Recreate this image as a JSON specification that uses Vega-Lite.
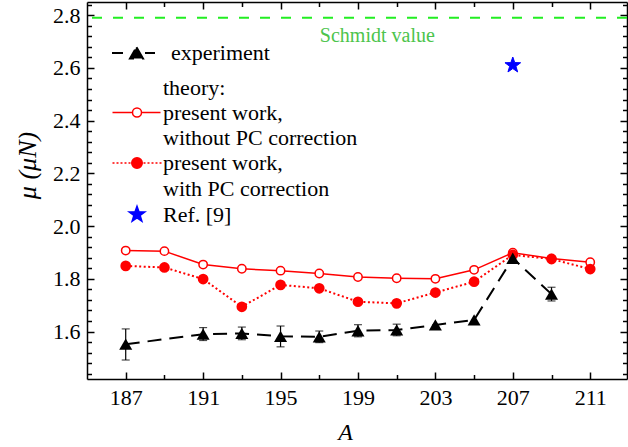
{
  "$schema": "https://vega.github.io/schema/vega-lite/v6.json",
  "width": 540,
  "height": 377,
  "autosize": {"type": "none"},
  "padding": {"left": 87, "top": 2, "right": 1, "bottom": 68},
  "background": "white",
  "config": {
    "view": {"stroke": null},
    "font": "Liberation Serif",
    "style": {"guide-label": {"lineHeight": 25.5}},
    "axis": {
      "grid": false,
      "domainColor": "black",
      "domainWidth": 1.5,
      "tickColor": "black",
      "tickWidth": 1.5,
      "labelFont": "Liberation Serif",
      "labelFontSize": 22,
      "labelColor": "black",
      "titleFont": "Liberation Serif",
      "titleFontSize": 24,
      "titleFontWeight": "normal",
      "titleFontStyle": "italic",
      "titleColor": "black"
    }
  },
  "datasets": {
    "main": [
      {"A": 187, "series": "experiment", "mu": 1.552, "lo": 1.492, "hi": 1.61},
      {"A": 191, "series": "experiment", "mu": 1.59, "lo": 1.566, "hi": 1.615},
      {"A": 193, "series": "experiment", "mu": 1.593, "lo": 1.569, "hi": 1.617},
      {"A": 195, "series": "experiment", "mu": 1.582, "lo": 1.542, "hi": 1.621},
      {"A": 197, "series": "experiment", "mu": 1.58, "lo": 1.558, "hi": 1.602},
      {"A": 199, "series": "experiment", "mu": 1.603, "lo": 1.58, "hi": 1.626},
      {"A": 201, "series": "experiment", "mu": 1.606, "lo": 1.584, "hi": 1.628},
      {"A": 203, "series": "experiment", "mu": 1.625, "lo": null, "hi": null},
      {"A": 205, "series": "experiment", "mu": 1.644, "lo": null, "hi": null},
      {"A": 207, "series": "experiment", "mu": 1.878, "lo": null, "hi": null},
      {"A": 209, "series": "experiment", "mu": 1.742, "lo": 1.716, "hi": 1.768},
      {"A": 187, "series": "without", "mu": 1.907},
      {"A": 189, "series": "without", "mu": 1.905},
      {"A": 191, "series": "without", "mu": 1.854},
      {"A": 193, "series": "without", "mu": 1.838},
      {"A": 195, "series": "without", "mu": 1.831},
      {"A": 197, "series": "without", "mu": 1.82},
      {"A": 199, "series": "without", "mu": 1.807},
      {"A": 201, "series": "without", "mu": 1.802},
      {"A": 203, "series": "without", "mu": 1.8},
      {"A": 205, "series": "without", "mu": 1.834},
      {"A": 207, "series": "without", "mu": 1.899},
      {"A": 209, "series": "without", "mu": 1.877},
      {"A": 211, "series": "without", "mu": 1.863},
      {"A": 187, "series": "with", "mu": 1.849},
      {"A": 189, "series": "with", "mu": 1.843},
      {"A": 191, "series": "with", "mu": 1.799},
      {"A": 193, "series": "with", "mu": 1.694},
      {"A": 195, "series": "with", "mu": 1.777},
      {"A": 197, "series": "with", "mu": 1.764},
      {"A": 199, "series": "with", "mu": 1.713},
      {"A": 201, "series": "with", "mu": 1.707},
      {"A": 203, "series": "with", "mu": 1.748},
      {"A": 205, "series": "with", "mu": 1.789},
      {"A": 207, "series": "with", "mu": 1.891},
      {"A": 209, "series": "with", "mu": 1.875},
      {"A": 211, "series": "with", "mu": 1.837},
      {"A": 207, "series": "Ref", "mu": 2.61}
    ],
    "schmidt": [{"mu": 2.79, "label": "Schmidt value"}]
  },
  "resolve": {"axis": {"x": "independent", "y": "independent"}},
  "layer": [
    {
      "data": {"name": "main"},
      "transform": [{"filter": "datum.series == 'without'"}],
      "mark": {"type": "line", "color": "red", "strokeWidth": 1.5},
      "encoding": {
        "x": {"field": "A", "type": "quantitative", "scale": {"domain": [185, 212.9], "nice": false, "zero": false},
          "axis": {"orient": "top", "values": [187, 189, 191, 193, 195, 197, 199, 201, 203, 205, 207, 209, 211], "labels": false, "title": null,
            "tickSize": {"condition": {"test": "datum.value % 4 == 3", "value": -7}, "value": -4.5}}},
        "y": {"field": "mu", "type": "quantitative", "scale": {"domain": [1.42, 2.85], "nice": false, "zero": false},
          "axis": {"orient": "right", "labels": false, "title": null,
            "values": [1.44, 1.48, 1.52, 1.56, 1.6, 1.64, 1.68, 1.72, 1.76, 1.8, 1.84, 1.88, 1.92, 1.96, 2.0, 2.04, 2.08, 2.12, 2.16, 2.2, 2.24, 2.28, 2.32, 2.36, 2.4, 2.44, 2.48, 2.52, 2.56, 2.6, 2.64, 2.68, 2.72, 2.76, 2.8, 2.84],
            "tickSize": {"condition": {"test": "abs(datum.value*5 - round(datum.value*5)) < 0.01", "value": -7}, "value": -4.5}}}
      }
    },
    {
      "data": {"name": "main"},
      "transform": [{"filter": "datum.series == 'with'"}],
      "mark": {"type": "line", "color": "red", "strokeWidth": 2, "strokeDash": [2, 2.5]},
      "encoding": {
        "x": {"field": "A", "type": "quantitative", "axis": null},
        "y": {"field": "mu", "type": "quantitative", "axis": null}
      }
    },
    {
      "data": {"name": "main"},
      "transform": [{"filter": "datum.series == 'without'"}],
      "mark": {"type": "point", "shape": "circle", "filled": false, "color": "red", "fill": "white", "fillOpacity": 1, "strokeWidth": 1.5, "size": 70, "opacity": 1},
      "encoding": {
        "x": {"field": "A", "type": "quantitative", "axis": null},
        "y": {"field": "mu", "type": "quantitative", "axis": null}
      }
    },
    {
      "data": {"name": "main"},
      "transform": [{"filter": "datum.series == 'with'"}],
      "mark": {"type": "point", "shape": "circle", "filled": true, "color": "red", "size": 115, "opacity": 1},
      "encoding": {
        "x": {"field": "A", "type": "quantitative", "axis": null},
        "y": {"field": "mu", "type": "quantitative", "axis": null}
      }
    },
    {
      "data": {"name": "main"},
      "transform": [{"filter": "datum.series == 'experiment'"}],
      "mark": {"type": "line", "color": "black", "strokeWidth": 2},
      "encoding": {
        "x": {"field": "A", "type": "quantitative",
          "axis": {"orient": "bottom", "values": [187, 189, 191, 193, 195, 197, 199, 201, 203, 205, 207, 209, 211],
            "labelExpr": "datum.value % 4 == 3 ? datum.label : ''",
            "tickSize": {"condition": {"test": "datum.value % 4 == 3", "value": -7}, "value": -4.5},
            "labelPadding": 15, "labelFlush": false, "labelOverlap": false,
            "title": "A", "titleX": 258, "titleY": 53, "titleBaseline": "middle", "titleAlign": "center"}},
        "y": {"field": "mu", "type": "quantitative",
          "axis": {"orient": "left",
            "values": [1.44, 1.48, 1.52, 1.56, 1.6, 1.64, 1.68, 1.72, 1.76, 1.8, 1.84, 1.88, 1.92, 1.96, 2.0, 2.04, 2.08, 2.12, 2.16, 2.2, 2.24, 2.28, 2.32, 2.36, 2.4, 2.44, 2.48, 2.52, 2.56, 2.6, 2.64, 2.68, 2.72, 2.76, 2.8, 2.84],
            "labelExpr": "abs(datum.value*5 - round(datum.value*5)) < 0.01 ? format(datum.value, '.1f') : ''",
            "tickSize": {"condition": {"test": "abs(datum.value*5 - round(datum.value*5)) < 0.01", "value": -7}, "value": -4.5},
            "labelPadding": 14, "labelFlush": false, "labelOverlap": false,
            "title": "μ (μN)", "titleAngle": -90, "titleX": -60, "titleY": 163, "titleBaseline": "middle", "titleAlign": "center", "titleFontSize": 26}},
        "strokeDash": {"field": "series", "type": "nominal",
          "scale": {"domain": ["experiment"], "range": [[14, 8]]},
          "legend": {
            "orient": "none", "legendX": 36, "legendY": 40, "title": null, "padding": 0,
            "symbolType": "M-4.4,0H-2.2M2.2,0H4.2M0.5,-1.15L1.8,1.1L-0.8,1.1Z",
            "symbolSize": 100, "symbolStrokeWidth": 2, "symbolStrokeColor": "black", "symbolFillColor": "black", "symbolOpacity": 1,
            "labelFont": "Liberation Serif", "labelFontSize": 22, "labelColor": "black", "labelLimit": 0, "labelOffset": 26
          }}
      }
    },
    {
      "data": {"name": "main"},
      "transform": [{"filter": "datum.series == 'experiment' && datum.lo != null"}],
      "mark": {"type": "rule", "color": "black", "strokeWidth": 1.2},
      "encoding": {
        "x": {"field": "A", "type": "quantitative", "axis": null},
        "y": {"field": "lo", "type": "quantitative", "axis": null},
        "y2": {"field": "hi"}
      }
    },
    {
      "data": {"name": "main"},
      "transform": [{"filter": "datum.series == 'experiment' && datum.lo != null"}],
      "mark": {"type": "tick", "orient": "horizontal", "color": "black", "size": 8, "thickness": 1.2},
      "encoding": {
        "x": {"field": "A", "type": "quantitative", "axis": null},
        "y": {"field": "lo", "type": "quantitative", "axis": null}
      }
    },
    {
      "data": {"name": "main"},
      "transform": [{"filter": "datum.series == 'experiment' && datum.hi != null"}],
      "mark": {"type": "tick", "orient": "horizontal", "color": "black", "size": 8, "thickness": 1.2},
      "encoding": {
        "x": {"field": "A", "type": "quantitative", "axis": null},
        "y": {"field": "hi", "type": "quantitative", "axis": null}
      }
    },
    {
      "data": {"name": "main"},
      "transform": [{"filter": "datum.series == 'experiment'"}],
      "mark": {"type": "point", "shape": "triangle-up", "filled": true, "color": "black", "size": 170, "opacity": 1},
      "encoding": {
        "x": {"field": "A", "type": "quantitative", "axis": null},
        "y": {"field": "mu", "type": "quantitative", "axis": null}
      }
    },
    {
      "data": {"name": "main"},
      "transform": [{"filter": "datum.series == 'Ref'"}],
      "mark": {"type": "point", "filled": true, "size": 100, "strokeWidth": 1, "opacity": 1},
      "encoding": {
        "x": {"field": "A", "type": "quantitative", "axis": null},
        "y": {"field": "mu", "type": "quantitative", "axis": null},
        "shape": {"field": "series", "type": "nominal",
          "scale": {"domain": ["theory", "without", "with", "Ref"],
            "range": ["M0,0",
              "M-4.9,0H-0.9M0.9,0H4.7M-0.9,0A0.9,0.9 0 1,0 0.9,0A0.9,0.9 0 1,0 -0.9,0Z",
              "M-4.9,0h0.4m0.4,0h0.4m0.4,0h0.4m0.4,0h0.4m0.4,0h0.4M1.3,0h0.4m0.4,0h0.4m0.4,0h0.4m0.4,0h0.4m0.4,0h0.4M-1.05,0A1.05,1.05 0 1,0 1.05,0A1.05,1.05 0 1,0 -1.05,0Z",
              "M0,-1.65L0.388,-0.534L1.569,-0.51L0.628,0.204L0.97,1.335L0,0.66L-0.97,1.335L-0.628,0.204L-1.569,-0.51L-0.388,-0.534Z"]},
          "legend": {
            "orient": "none", "legendX": 39, "legendY": 75, "title": null, "padding": 0,
            "symbolSize": 100, "symbolStrokeWidth": 1.5, "symbolOpacity": 1,
            "labelFont": "Liberation Serif", "labelFontSize": 22, "labelColor": "black", "labelLimit": 0, "labelOffset": 15, "rowPadding": 2.5,
            "labelExpr": "datum.value == 'theory' ? '\u00a0\u2009theory:' : datum.value == 'without' ? ['\u00a0present work,', 'without PC correction'] : datum.value == 'with' ? ['\u00a0present work,', 'with PC correction'] : '\u00a0Ref. [9]'"
          }},
        "fill": {"field": "series", "type": "nominal",
          "scale": {"domain": ["theory", "without", "with", "Ref"], "range": ["white", "white", "red", "blue"]}},
        "stroke": {"field": "series", "type": "nominal",
          "scale": {"domain": ["theory", "without", "with", "Ref"], "range": ["white", "red", "red", "blue"]}}
      }
    },
    {
      "data": {"name": "schmidt"},
      "mark": {"type": "rule", "color": "#22ee22", "strokeWidth": 2, "strokeDash": [10, 11]},
      "encoding": {
        "y": {"field": "mu", "type": "quantitative", "axis": null}
      }
    },
    {
      "data": {"name": "schmidt"},
      "mark": {"type": "text", "font": "Liberation Serif", "fontSize": 20, "color": "#4cc44c"},
      "encoding": {
        "x": {"datum": 200, "type": "quantitative", "axis": null},
        "y": {"datum": 2.72, "type": "quantitative", "axis": null},
        "text": {"field": "label"}
      }
    }
  ]
}
